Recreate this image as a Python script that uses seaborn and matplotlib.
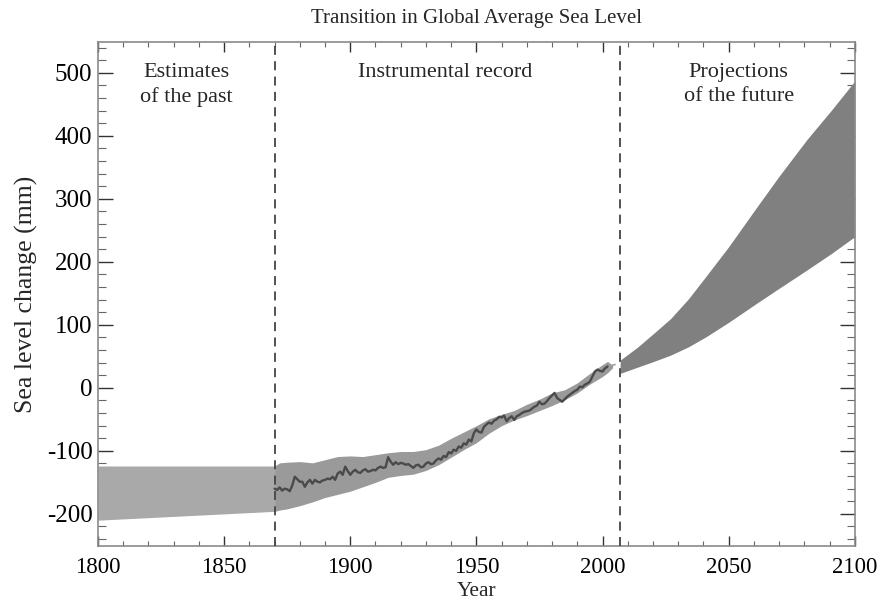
import matplotlib
matplotlib.use("Agg")
import matplotlib.pyplot as plt
from matplotlib.ticker import MultipleLocator
import numpy as np
import pandas as pd
import seaborn as sns

# ---------------- data ----------------
past_years = [1800, 1820, 1840, 1860, 1870]
past_upper = [-124, -124, -124, -124, -124]
past_lower = [-210, -206, -202, -198, -196]

inst_band_years = [1870, 1872, 1875, 1880, 1885, 1890, 1895, 1900, 1905, 1910, 1915,
                   1920, 1925, 1930, 1935, 1940, 1945, 1950, 1955, 1960, 1965, 1970,
                   1975, 1980, 1985, 1990, 1995, 2000, 2002, 2004]
inst_upper = [-124, -119, -118, -117, -119, -114, -109, -108, -109, -106, -103,
              -101, -101, -98, -91, -80, -70, -60, -49, -42, -36, -26,
              -18, -8, -3, 8, 23, 37, 42, 36]
inst_lower = [-196, -194, -192, -187, -181, -174, -169, -164, -157, -150, -142,
              -139, -137, -131, -122, -110, -98, -87, -72, -60, -51, -44,
              -36, -28, -19, -8, 6, 18, 24, 32]

tide_years = list(range(1870, 2003))
tide_values = [-160, -162, -158, -163, -160, -161, -164, -155, -141, -145,
               -149, -149, -157, -150, -146, -152, -146, -149, -150, -147,
               -146, -144, -145, -141, -146, -136, -133, -138, -125, -132,
               -138, -133, -130, -134, -135, -131, -129, -133, -132, -130,
               -131, -127, -125, -127, -126, -110, -117, -122, -118, -121,
               -119, -120, -122, -121, -124, -127, -123, -122, -126, -125,
               -120, -118, -121, -120, -115, -112, -114, -108, -110, -102,
               -104, -98, -100, -93, -95, -88, -90, -82, -85, -72,
               -66, -70, -71, -62, -58, -55, -57, -52, -50, -46,
               -47, -44, -53, -48, -45, -51, -45, -43, -40, -38,
               -37, -36, -33, -30, -28, -22, -26, -25, -21, -16,
               -12, -8, -16, -19, -22, -18, -14, -11, -8, -5,
               -3, 2, 1, 5, 7, 10, 18, 26, 29, 27,
               26, 31, 34]

sat_years = [2001, 2003, 2005]
sat_values = [31, 35, 37]

proj_years = [2007, 2014, 2021, 2027, 2034, 2041, 2050, 2061, 2070, 2081, 2091, 2100]
proj_upper = [44, 65, 89, 110, 141, 177, 224, 286, 336, 394, 442, 487]
proj_lower = [23, 33, 43, 52, 65, 81, 104, 134, 158, 187, 214, 240]

boundary_years = [1870, 2007]

x_ticks = [1800, 1850, 1900, 1950, 2000, 2050, 2100]
y_ticks = [-200, -100, 0, 100, 200, 300, 400, 500]

# ---------------- style ----------------
sns.set_theme(style="ticks")
plt.rcParams["font.family"] = ["Liberation Serif", "DejaVu Serif"]

fig = plt.figure(figsize=(8.83, 6.06), dpi=100)
ax = fig.add_axes([0.111, 0.099, 0.857, 0.8317])

ax.fill_between(past_years, past_lower, past_upper, color="#a9a9a9", lw=0, zorder=1)
ax.fill_between(inst_band_years, inst_lower, inst_upper, color="#9a9a9a", lw=0, zorder=1)
ax.fill_between(proj_years, proj_lower, proj_upper, color="#808080", lw=0, zorder=1)

df_tide = pd.DataFrame({"year": tide_years, "level": tide_values})
sns.lineplot(data=df_tide, x="year", y="level", ax=ax, color="#4a4a4a", lw=1.7, zorder=3)
df_sat = pd.DataFrame({"year": sat_years, "level": sat_values})
sns.lineplot(data=df_sat, x="year", y="level", ax=ax, color="#a0a0a0", lw=1.2, zorder=2)

for by in boundary_years:
    ax.axvline(by, color="#444444", lw=1.3, ls=(0, (5, 3.5)), zorder=4)

ax.set_xlim(1800, 2100)
ax.set_ylim(-251, 549)
ax.set_xticks(x_ticks)
ax.set_xticklabels([str(v) for v in x_ticks])
ax.set_yticks(y_ticks)
ax.set_yticklabels([str(v) for v in y_ticks])
ax.xaxis.set_minor_locator(MultipleLocator(10))
ax.yaxis.set_minor_locator(MultipleLocator(20))

ax.tick_params(axis="both", which="both", direction="in", top=True, right=True,
               colors="#333333")
ax.tick_params(axis="x", which="major", length=7, width=1.0, labelsize=16.5, pad=8,
               labelcolor="black")
ax.tick_params(axis="x", which="minor", length=3.8, width=0.8, color="#666666")
ax.tick_params(axis="y", which="major", length=10.5, width=1.0, labelsize=18, pad=4,
               labelcolor="black")
ax.tick_params(axis="y", which="minor", length=5.5, width=0.8, color="#666666")

for sp in ax.spines.values():
    sp.set_visible(True)
    sp.set_color("#8a8a8a")
    sp.set_linewidth(1.2)

ax.set_xlabel("Year", fontsize=15.5, labelpad=3)
ax.set_ylabel("Sea level change (mm)", fontsize=18.5, labelpad=6)
ax.set_title("Transition in Global Average Sea Level", fontsize=15, pad=14)

ax.text(1835, 481, "Estimates\nof the past", ha="center", va="center", fontsize=16,
        linespacing=1.35)
ax.text(1937.5, 501, "Instrumental record", ha="center", va="center", fontsize=16)
ax.text(2054, 482, "Projections\nof the future", ha="center", va="center", fontsize=16,
        linespacing=1.35)

fig.savefig("out.png", dpi=100)
